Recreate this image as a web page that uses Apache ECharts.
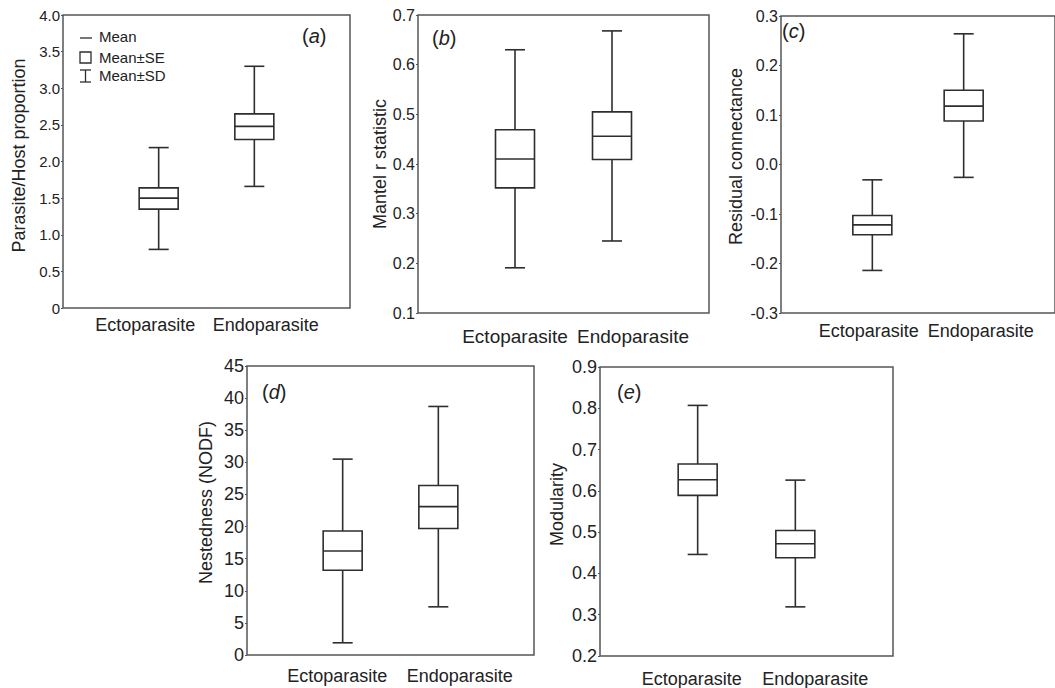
<!DOCTYPE html>
<html>
<head>
<meta charset="utf-8">
<script src="https://cdn.jsdelivr.net/npm/echarts@6/dist/echarts.min.js"></script>
<style>
html,body{margin:0;padding:0;background:#fff;}
#chart{width:1055px;height:688px;}
</style>
</head>
<body>
<div id="chart"></div>
<script>
// Categories
const categories = ['Ectoparasite', 'Endoparasite'];
// Each stats array: [mean-SD, mean-SE, mean, mean+SE, mean+SD]
const parasiteHostEcto = [0.80, 1.35, 1.50, 1.64, 2.19];
const parasiteHostEndo = [1.66, 2.30, 2.48, 2.65, 3.30];
const mantelEcto = [0.191, 0.352, 0.410, 0.469, 0.630];
const mantelEndo = [0.245, 0.409, 0.456, 0.505, 0.668];
const residualEcto = [-0.214, -0.142, -0.122, -0.103, -0.031];
const residualEndo = [-0.026, 0.088, 0.118, 0.150, 0.264];
const nestednessEcto = [1.9, 13.2, 16.2, 19.3, 30.5];
const nestednessEndo = [7.5, 19.7, 23.1, 26.4, 38.7];
const modularityEcto = [0.446, 0.589, 0.627, 0.665, 0.807];
const modularityEndo = [0.319, 0.438, 0.472, 0.504, 0.626];
// Tick labels
const ticksA = ['0', '0.5', '1.0', '1.5', '2.0', '2.5', '3.0', '3.5', '4.0'];
const ticksB = ['0.1', '0.2', '0.3', '0.4', '0.5', '0.6', '0.7'];
const ticksC = ['-0.3', '-0.2', '-0.1', '0.0', '0.1', '0.2', '0.3'];
const ticksD = ['0', '5', '10', '15', '20', '25', '30', '35', '40', '45'];
const ticksE = ['0.2', '0.3', '0.4', '0.5', '0.6', '0.7', '0.8', '0.9'];
// Axis titles
const yNames = ['Parasite/Host proportion', 'Mantel r statistic', 'Residual connectance', 'Nestedness (NODF)', 'Modularity'];
const panelLetters = ['a', 'b', 'c', 'd', 'e'];

const FONT = 'Liberation Sans, Arial, Helvetica, sans-serif';
const INK = '#2e2e2e';
const FRAME = '#555';

const panels = [
  {grid:{left:63, top:15, width:287, height:293}, ecto:parasiteHostEcto, endo:parasiteHostEndo, ticks:ticksA, min:0, interval:0.5, tickFont:15, nameGap:35, nameLift:6, catFont:18, catMargin:8, catShift:[-13.5, 11.5], letterPos:[302,36.5]},
  {grid:{left:418, top:15, width:291, height:298}, ecto:mantelEcto, endo:mantelEndo, ticks:ticksB, min:0.1, interval:0.1, tickFont:16, nameGap:28, nameLift:0, catFont:19, catMargin:14, catShift:[0, 21], letterPos:[432,38.5]},
  {grid:{left:781, top:16, width:290, height:297}, ecto:residualEcto, endo:residualEndo, ticks:ticksC, min:-0.3, interval:0.1, tickFont:16, nameGap:36, nameLift:8, catFont:18, catMargin:9, catShift:[-3.5, 17], letterPos:[782,32]},
  {grid:{left:247, top:366, width:287, height:289}, ecto:nestednessEcto, endo:nestednessEndo, ticks:ticksD, min:0, interval:5, tickFont:18, nameGap:32, nameLift:8, catFont:18, catMargin:12, catShift:[-5.5, 21.5], letterPos:[262,392.5]},
  {grid:{left:600, top:367, width:293, height:290}, ecto:modularityEcto, endo:modularityEndo, ticks:ticksE, min:0.2, interval:0.1, tickFont:18, nameGap:34, nameLift:7, catFont:18, catMargin:14, catShift:[-6, 20], letterPos:[617,392.5]}
];

function shiftPad(s) {
  // a positive shift moves the label right, a negative one left
  return s >= 0 ? [0, 0, 0, 2 * s] : [0, -2 * s, 0, 0];
}

const grids = [], xAxes = [], yAxes = [], series = [], graphics = [];

panels.forEach((p, i) => {
  grids.push(Object.assign({show:true, borderColor:FRAME, borderWidth:1.5, backgroundColor:'transparent'}, p.grid));
  const rs = {fontSize:p.catFont, fontFamily:FONT, color:'#222'};
  xAxes.push({
    gridIndex:i, type:'value', min:0, max:3, interval:1,
    axisLine:{show:false}, axisTick:{show:false}, splitLine:{show:false},
    axisLabel:{
      margin:p.catMargin, color:'#222', fontSize:p.catFont, fontFamily:FONT,
      showMinLabel:false, showMaxLabel:false,
      formatter:(v) => {
        const k = Math.round(v);
        if (k === 1) return '{l|' + categories[0] + '}';
        if (k === 2) return '{r|' + categories[1] + '}';
        return '';
      },
      rich:{
        l:Object.assign({padding:shiftPad(p.catShift[0])}, rs),
        r:Object.assign({padding:shiftPad(p.catShift[1])}, rs)
      }
    }
  });
  const maxV = p.min + p.interval * (p.ticks.length - 1);
  yAxes.push({
    gridIndex:i, type:'value', min:p.min, max:maxV, interval:p.interval,
    name:yNames[i], nameLocation:'middle', nameGap:p.nameGap,
    nameTextStyle:{fontSize:18, color:'#222', fontFamily:FONT, padding:[0, 0, 0, 2 * p.nameLift]},
    axisLine:{show:false}, splitLine:{show:false},
    axisTick:{show:true, length:2, lineStyle:{color:FRAME, width:1}},
    axisLabel:{
      margin:3, color:'#222', fontSize:p.tickFont, fontFamily:FONT,
      formatter:(v) => p.ticks[Math.round((v - p.min) / p.interval)]
    }
  });
  series.push({
    type:'custom', xAxisIndex:i, yAxisIndex:i,
    data:[[1].concat(p.ecto), [2].concat(p.endo)],
    encode:{x:0, y:[1,2,3,4,5]},
    renderItem:(params, api) => {
      const x = api.value(0);
      const lo = api.coord([x, api.value(1)]);
      const q1 = api.coord([x, api.value(2)]);
      const md = api.coord([x, api.value(3)]);
      const q3 = api.coord([x, api.value(4)]);
      const hi = api.coord([x, api.value(5)]);
      const bw = 19.5, cw = 10;
      const ls = {stroke:INK, lineWidth:1.6, fill:null};
      return {type:'group', children:[
        {type:'line', shape:{x1:lo[0], y1:lo[1], x2:hi[0], y2:hi[1]}, style:ls},
        {type:'line', shape:{x1:lo[0]-cw, y1:lo[1], x2:lo[0]+cw, y2:lo[1]}, style:ls},
        {type:'line', shape:{x1:hi[0]-cw, y1:hi[1], x2:hi[0]+cw, y2:hi[1]}, style:ls},
        {type:'rect', shape:{x:q3[0]-bw, y:q3[1], width:2*bw, height:q1[1]-q3[1]}, style:{stroke:INK, lineWidth:1.6, fill:'#fff'}},
        {type:'line', shape:{x1:md[0]-bw, y1:md[1], x2:md[0]+bw, y2:md[1]}, style:ls}
      ]};
    }
  });
  graphics.push({
    type:'text', left:p.letterPos[0], top:p.letterPos[1] - 11,
    style:{
      text:'(' + '{it|' + panelLetters[i] + '})',
      font:'20px ' + FONT, fill:'#222',
      rich:{it:{fontStyle:'italic', fontSize:20, fontFamily:FONT, fill:'#222'}}
    }
  });
});

// Legend inside panel (a)
const legendItems = ['Mean', 'Mean±SE', 'Mean±SD'];
graphics.push(
  {type:'line', shape:{x1:80, y1:38, x2:92, y2:38}, style:{stroke:INK, lineWidth:1.3}},
  {type:'rect', shape:{x:80, y:52, width:11, height:11}, style:{stroke:INK, lineWidth:1.3, fill:'#fff'}},
  {type:'line', shape:{x1:85.5, y1:70, x2:85.5, y2:82}, style:{stroke:INK, lineWidth:1.3}},
  {type:'line', shape:{x1:80, y1:70, x2:91, y2:70}, style:{stroke:INK, lineWidth:1.3}},
  {type:'line', shape:{x1:80, y1:82, x2:91, y2:82}, style:{stroke:INK, lineWidth:1.3}},
  {type:'text', left:99, top:29, style:{text:legendItems[0], font:'15px ' + FONT, fill:'#222'}},
  {type:'text', left:99, top:50, style:{text:legendItems[1], font:'15px ' + FONT, fill:'#222'}},
  {type:'text', left:99, top:68, style:{text:legendItems[2], font:'15px ' + FONT, fill:'#222'}}
);

const chart = echarts.init(document.getElementById('chart'), null, {renderer:'svg'});
chart.setOption({
  animation:false,
  backgroundColor:'#fff',
  textStyle:{fontFamily:FONT},
  grid:grids, xAxis:xAxes, yAxis:yAxes, series:series, graphic:graphics
});
</script>
</body>
</html>
